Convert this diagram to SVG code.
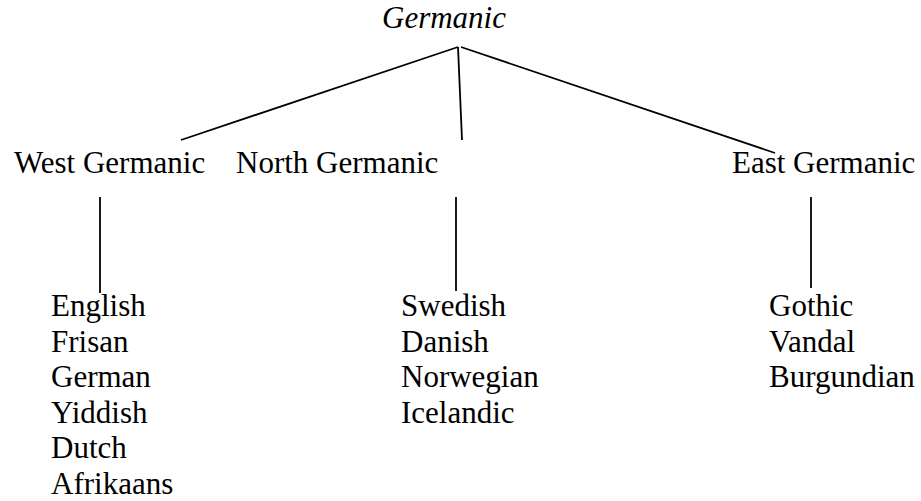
<svg xmlns="http://www.w3.org/2000/svg" width="921" height="501" viewBox="0 0 921 501">
<style>
text{font-family:"Liberation Serif","Times New Roman",serif;font-size:31px;fill:#000}
.it{font-style:italic}
line{stroke:#000;stroke-width:1.8}
</style>
<rect width="921" height="501" fill="#fff"/>
<g id="connectors">
<line x1="458" y1="47" x2="181" y2="140"/>
<line x1="458" y1="47" x2="462" y2="140"/>
<line x1="461" y1="47" x2="775" y2="153"/>
<line x1="100" y1="197" x2="100" y2="293"/>
<line x1="456" y1="197" x2="456" y2="291"/>
<line x1="811" y1="197" x2="811" y2="288"/>
</g>
<g id="germanic"><text class="it" x="382" y="28">Germanic</text></g>
<g id="west"><text x="14" y="173">West Germanic</text></g>
<g id="north"><text x="236" y="173">North Germanic</text></g>
<g id="east"><text x="732" y="173">East Germanic</text></g>
<g id="west-langs">
<text x="51" y="316">English</text>
<text x="51" y="351.5">Frisan</text>
<text x="51" y="387">German</text>
<text x="51" y="422.5">Yiddish</text>
<text x="51" y="458">Dutch</text>
<text x="51" y="493.5">Afrikaans</text>
</g>
<g id="north-langs">
<text x="401" y="316">Swedish</text>
<text x="401" y="351.5">Danish</text>
<text x="401" y="387">Norwegian</text>
<text x="401" y="422.5">Icelandic</text>
</g>
<g id="east-langs">
<text x="769" y="316">Gothic</text>
<text x="769" y="351.5">Vandal</text>
<text x="769" y="387">Burgundian</text>
</g>
</svg>
